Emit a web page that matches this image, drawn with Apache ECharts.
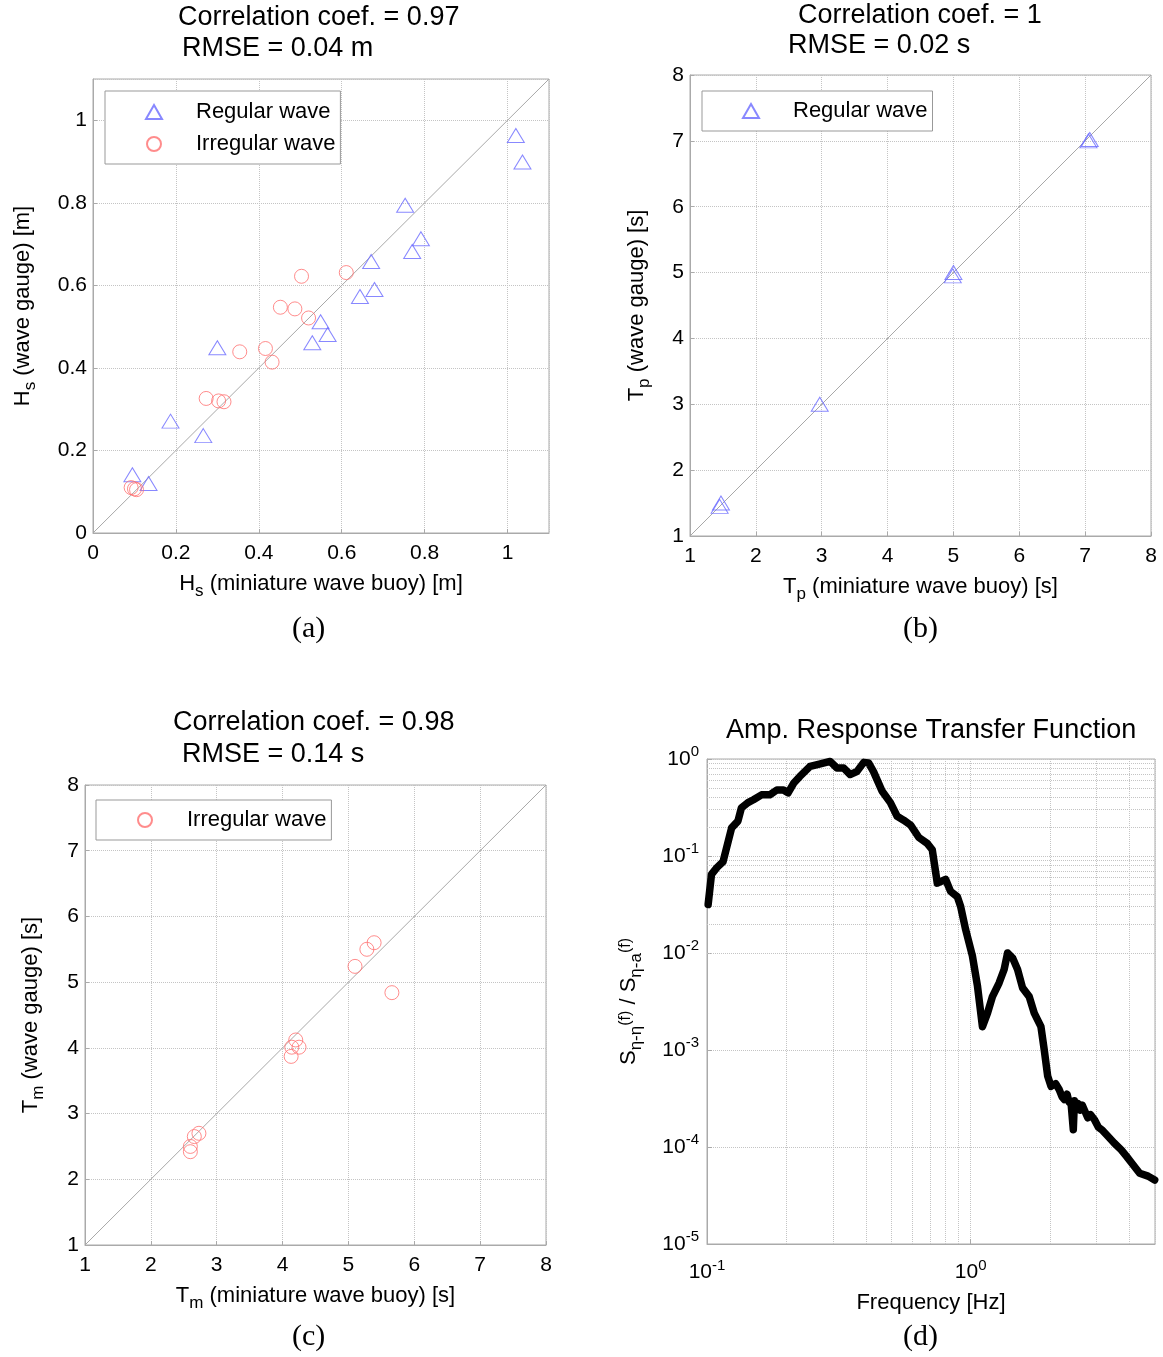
<!DOCTYPE html>
<html><head><meta charset="utf-8">
<script src="https://cdn.jsdelivr.net/npm/echarts@6/dist/echarts.min.js"></script>
<style>html,body{margin:0;padding:0;background:#fff}#c{width:1163px;height:1357px}</style>
</head><body><div id="c"></div>
<script>
// ---- (a) significant wave height ----
const hsRegX = [1.020,1.036,0.753,0.791,0.770,0.671,0.679,0.644,0.549,0.566,0.529,0.300,0.187,0.266,0.095,0.134];
const hsRegY = [0.963,0.899,0.794,0.713,0.682,0.658,0.590,0.573,0.512,0.481,0.461,0.449,0.271,0.236,0.141,0.120];
const hsIrrX = [0.503,0.611,0.452,0.487,0.520,0.354,0.416,0.432,0.273,0.303,0.316,0.092,0.100,0.105];
const hsIrrY = [0.622,0.631,0.547,0.543,0.521,0.439,0.447,0.414,0.326,0.320,0.318,0.110,0.107,0.105];
// ---- (b) peak period ----
const tpRegX = [1.45,1.47,2.97,4.99,5.00,7.05,7.07];
const tpRegY = [1.45,1.50,3.00,4.95,5.00,7.00,7.02];
// ---- (c) mean period ----
const tmIrrX = [5.39,5.28,5.10,5.66,4.20,4.14,4.25,4.13,2.73,2.66,2.60,2.60];
const tmIrrY = [5.60,5.50,5.24,4.84,4.12,4.01,4.01,3.87,2.70,2.65,2.50,2.42];
// ---- diagonal reference lines ----
const diagA = [0, 1.1];
const diagB = [1, 8];
// ---- (d) transfer function ----
const freq = [0.101,0.104,0.109,0.115,0.124,0.131,0.135,0.143,0.150,0.161,0.173,0.184,0.195,0.203,0.213,0.225,0.246,0.269,0.293,0.311,0.330,0.349,0.370,0.393,0.410,0.428,0.461,0.496,0.526,0.557,0.591,0.636,0.684,0.715,0.747,0.803,0.839,0.890,0.916,0.957,1.015,1.061,1.108,1.158,1.209,1.281,1.339,1.380,1.441,1.506,1.573,1.667,1.742,1.847,1.901,1.959,2.017,2.10,2.168,2.22,2.266,2.32,2.36,2.403,2.45,2.474,2.50,2.548,2.60,2.65,2.70,2.78,2.85,2.948,3.05,3.15,3.315,3.50,3.724,3.90,4.065,4.373,4.706,4.986];
const amp = [0.0316,0.0646,0.0759,0.0871,0.195,0.229,0.313,0.355,0.380,0.427,0.427,0.479,0.479,0.447,0.562,0.661,0.839,0.891,0.944,0.807,0.807,0.692,0.741,0.923,0.912,0.741,0.468,0.355,0.257,0.234,0.209,0.155,0.135,0.116,0.0525,0.0575,0.0432,0.0380,0.0302,0.0174,0.00933,0.00457,0.00174,0.00240,0.00355,0.00490,0.00676,0.0100,0.00891,0.00676,0.00437,0.00355,0.00240,0.00174,0.00100,0.000537,0.000422,0.000450,0.000389,0.000330,0.000309,0.000350,0.000290,0.000282,0.000151,0.000300,0.000260,0.000282,0.000240,0.000270,0.000240,0.000200,0.000215,0.000191,0.000160,0.000150,0.000129,0.000110,0.0000933,0.0000800,0.0000692,0.0000537,0.0000501,0.0000457];
const minorX = [0.2,0.3,0.4,0.5,0.6,0.7,0.8,0.9,2,3,4,5];
const minorY = [];
[1e-5,1e-4,1e-3,1e-2,1e-1].forEach(d=>{for(let k=2;k<=9;k++) minorY.push(+(d*k).toPrecision(3));});

const FF = 'Liberation Sans, Arial, sans-serif';
const GRID_C = '#c4c4c4';
const BLUE = '#6a6aff', RED = '#ff6f6f';
const pairs = (xs, ys) => xs.map((x,i)=>[x, ys[i]]);

const nameRich = {
  n: {fontSize: 22, fontFamily: FF, color: '#000'},
  s: {fontSize: 17, fontFamily: FF, color: '#000', padding: [16,0,0,0]},
  p: {fontSize: 16, fontFamily: FF, color: '#000', padding: [0,0,6,0]}
};
function linAxis(gi, min, max, interval, isX, name, gap) {
  return {
    type: 'value', gridIndex: gi, min, max, interval,
    name, nameLocation: 'middle', nameGap: gap,
    nameTextStyle: {fontSize: 22, fontFamily: FF, color: '#000', rich: nameRich},
    axisLine: {show: true, lineStyle: {color: '#aaa'}},
    axisTick: {show: true, inside: true, length: 4, lineStyle: {color: '#aaa'}},
    axisLabel: {fontSize: 21, fontFamily: FF, color: '#000', margin: isX ? 10 : 6, showMaxLabel: max !== 1.1,
      formatter: v => String(+v.toFixed(2))},
    splitLine: {show: true, lineStyle: {color: GRID_C, type: 'dotted', width: 1}}
  };
}
const logFmt = v => {
  const l = Math.log10(v), k = Math.round(l);
  if (Math.abs(l - k) > 1e-6) return '';
  return '{b|10}{p|' + k + '}';
};
const logRich = {
  b: {fontSize: 21, fontFamily: FF, color: '#000'},
  p: {fontSize: 15, fontFamily: FF, color: '#000', padding: [0,0,14,0]}
};

const grids = [
  {left: 93, top: 79, width: 456, height: 454},
  {left: 690, top: 75, width: 461, height: 461},
  {left: 85, top: 785, width: 461, height: 460},
  {left: 707, top: 759, width: 448, height: 485}
].map(g => Object.assign(g, {show: true, borderColor: '#aaa', borderWidth: 1, backgroundColor: 'transparent'}));

const xAxes = [
  linAxis(0, 0, 1.1, 0.2, true, '{n|H}{s|s}{n| (miniature wave buoy) [m]}', 34),
  linAxis(1, 1, 8, 1, true, '{n|T}{s|p}{n| (miniature wave buoy) [s]}', 34),
  linAxis(2, 1, 8, 1, true, '{n|T}{s|m}{n| (miniature wave buoy) [s]}', 34),
  {type: 'log', logBase: 10, gridIndex: 3, min: 0.1, max: 5,
   name: 'Frequency [Hz]', nameLocation: 'middle', nameGap: 48,
   nameTextStyle: {fontSize: 22, fontFamily: FF, color: '#000'},
   axisLine: {show: true, lineStyle: {color: '#aaa'}},
   axisTick: {show: true, inside: true, length: 5, lineStyle: {color: '#aaa'}},
   axisLabel: {formatter: logFmt, rich: logRich, margin: 14, showMaxLabel: false},
   splitLine: {show: true, lineStyle: {color: GRID_C, type: 'dotted'}}}
];
const yAxes = [
  linAxis(0, 0, 1.1, 0.2, false, '{n|H}{s|s}{n| (wave gauge) [m]}', 54),
  linAxis(1, 1, 8, 1, false, '{n|T}{s|p}{n| (wave gauge) [s]}', 37),
  linAxis(2, 1, 8, 1, false, '{n|T}{s|m}{n| (wave gauge) [s]}', 38),
  {type: 'log', logBase: 10, gridIndex: 3, min: 1e-5, max: 1,
   name: '{n|S}{s|η-η}{p|(f)}{n| / S}{s|η-a}{p|(f)}', nameLocation: 'middle', nameGap: 62,
   nameTextStyle: {fontSize: 22, fontFamily: FF, color: '#000', rich: nameRich},
   axisLine: {show: true, lineStyle: {color: '#aaa'}},
   axisTick: {show: true, inside: true, length: 5, lineStyle: {color: '#aaa'}},
   axisLabel: {formatter: logFmt, rich: logRich, margin: 8},
   splitLine: {show: true, lineStyle: {color: GRID_C, type: 'dotted'}}}
];

const triStyle = {color: 'rgba(0,0,0,0)', borderColor: BLUE, borderWidth: 1};
const cirStyle = {color: 'rgba(0,0,0,0)', borderColor: RED, borderWidth: 1};
function diag(gi, d) {
  return {type: 'line', xAxisIndex: gi, yAxisIndex: gi, data: [[d[0], d[0]], [d[1], d[1]]],
    symbol: 'none', silent: true, z: 1, lineStyle: {color: '#a8a8a8', width: 1}};
}
function tri(gi, data) {
  return {name: 'Regular wave', type: 'scatter', xAxisIndex: gi, yAxisIndex: gi, data,
    symbol: 'triangle', symbolSize: [17, 14], itemStyle: triStyle, z: 3};
}
function cir(gi, data) {
  return {name: 'Irregular wave', type: 'scatter', xAxisIndex: gi, yAxisIndex: gi, data,
    symbol: 'circle', symbolSize: 14, itemStyle: cirStyle, z: 3};
}
const minorLine = {type: 'dotted', color: GRID_C, width: 1};
const series = [
  diag(0, diagA), tri(0, pairs(hsRegX, hsRegY)), cir(0, pairs(hsIrrX, hsIrrY)),
  diag(1, diagB), tri(1, pairs(tpRegX, tpRegY)),
  diag(2, diagB), cir(2, pairs(tmIrrX, tmIrrY)),
  {type: 'line', xAxisIndex: 3, yAxisIndex: 3, data: [], silent: true, z: 1,
   markLine: {silent: true, symbol: 'none', label: {show: false}, lineStyle: minorLine, animation: false,
     data: minorX.map(v => ({xAxis: v})).concat(minorY.map(v => ({yAxis: v})))}},
  {type: 'line', xAxisIndex: 3, yAxisIndex: 3, data: pairs(freq, amp), symbol: 'none', z: 5,
   lineStyle: {color: '#000', width: 7.5, join: 'round', cap: 'round'}}
];

const legendBase = {orient: 'vertical', backgroundColor: '#fff', borderColor: '#999', borderWidth: 1,
  itemWidth: 16, itemHeight: 14, itemGap: 10,
  textStyle: {fontSize: 22, fontFamily: FF, color: '#000', padding: [0,0,0,29], lineHeight: 22}};
const legends = [
  Object.assign({}, legendBase, {left: 105, top: 91, padding: [10, 5, 9, 40], data: ['Regular wave', 'Irregular wave']}),
  Object.assign({}, legendBase, {left: 702, top: 91, padding: [9, 5, 9, 40], data: ['Regular wave']}),
  Object.assign({}, legendBase, {left: 96, top: 800, padding: [9, 5, 9, 41], data: ['Irregular wave']})
];

const tStyle = {fontSize: 27, fontFamily: FF, color: '#000', fontWeight: 'normal'};
const capStyle = {fontSize: 30, fontFamily: 'Liberation Serif, Times New Roman, serif', color: '#000', fontWeight: 'normal'};
const titles = [
  {text: 'Correlation coef. = 0.97', left: 178, top: 4, textStyle: tStyle, padding: 0},
  {text: 'RMSE = 0.04 m', left: 182, top: 35, textStyle: tStyle, padding: 0},
  {text: 'Correlation coef. = 1', left: 798, top: 2, textStyle: tStyle, padding: 0},
  {text: 'RMSE = 0.02 s', left: 788, top: 32, textStyle: tStyle, padding: 0},
  {text: 'Correlation coef. = 0.98', left: 173, top: 709, textStyle: tStyle, padding: 0},
  {text: 'RMSE = 0.14 s', left: 182, top: 741, textStyle: tStyle, padding: 0},
  {text: 'Amp. Response Transfer Function', left: 726, top: 717, textStyle: tStyle, padding: 0},
  {text: '(a)', left: 292, top: 614, textStyle: capStyle, padding: 0},
  {text: '(b)', left: 903, top: 614, textStyle: capStyle, padding: 0},
  {text: '(c)', left: 292, top: 1322, textStyle: capStyle, padding: 0},
  {text: '(d)', left: 903, top: 1322, textStyle: capStyle, padding: 0}
];

const chart = echarts.init(document.getElementById('c'), null, {renderer: 'canvas'});
chart.setOption({
  animation: false,
  backgroundColor: '#fff',
  title: titles,
  legend: legends,
  grid: grids,
  xAxis: xAxes,
  yAxis: yAxes,
  series
});
</script></body></html>
